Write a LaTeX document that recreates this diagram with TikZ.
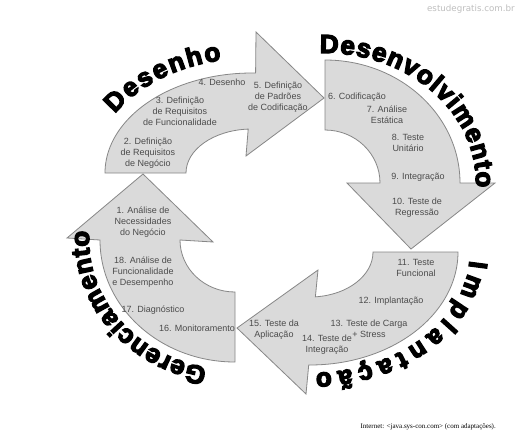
\documentclass[tikz,border=0pt]{standalone}
\usepackage{fontspec}
\usetikzlibrary{calc,decorations.text}
\newfontfamily\lblfont{Liberation Sans}
\newfontfamily\titlefont[FakeBold=5]{Liberation Sans Bold}
\newfontfamily\srcfont{Liberation Serif}
\newfontfamily\wmfont{DejaVu Sans}
\definecolor{arrowfill}{RGB}{218,218,218}
\definecolor{arrowline}{RGB}{135,135,135}
\definecolor{labeltext}{RGB}{75,75,75}
\tikzset{
  bigarrow/.style={fill=arrowfill,draw=arrowline,line width=0.8pt,line join=miter},
  lbl/.style={font=\lblfont\fontsize{9}{11}\selectfont,text=labeltext,align=center,inner sep=0pt},
  phase/.style={decorate,decoration={text along path,text align={fit to path},
    text={|\titlefont\fontsize{26}{26}\selectfont|#1}}}
}

\begin{document}
\begin{tikzpicture}[x=1pt,y=1pt]
  \fill[white] (0,0) rectangle (519,-437);
  \useasboundingbox (0,0) rectangle (519,-437);
  % centres of the four quarter-ellipse arrows, clockwise from top left
  \coordinate (c1) at (252,-173);
  \coordinate (c2) at (325,-183);
  \coordinate (c3) at (310,-252);
  \coordinate (c4) at (235,-240);

  \draw[bigarrow] ([shift={(c1)}]180:66 and 44) -- ([shift={(c1)}]180:147 and 100)
    arc[start angle=180,end angle=88.6,x radius=147,y radius=100]
    -- (256,-32) -- (324,-98) -- (246,-156) -- ([shift={(c1)}]93.3:66 and 44)
    arc[start angle=93.3,end angle=180,x radius=66,y radius=44] -- cycle;
  \draw[bigarrow] ([shift={(c2)}]90:55 and 53) -- ([shift={(c2)}]90:135 and 123)
    arc[start angle=90,end angle=0,x radius=135,y radius=123]
    -- (495,-183) -- (411,-249) -- (347,-183) -- ([shift={(c2)}]0:55 and 53)
    arc[start angle=0,end angle=90,x radius=55,y radius=53] -- cycle;
  \draw[bigarrow] ([shift={(c3)}]0:63 and 45) -- ([shift={(c3)}]0:148 and 113)
    arc[start angle=0,end angle=-90.5,x radius=148,y radius=113]
    -- (306,-394) -- (237,-328) -- (318,-270) -- ([shift={(c3)}]-85.1:63 and 45)
    arc[start angle=-85.1,end angle=0,x radius=63,y radius=45] -- cycle;
  \draw[bigarrow] ([shift={(c4)}]-90:55 and 52) -- ([shift={(c4)}]-90:135 and 122)
    arc[start angle=-90,end angle=-180,x radius=135,y radius=122]
    -- (67,-238) -- (143,-174) -- (213,-242) -- ([shift={(c4)}]180:55 and 52)
    arc[start angle=180,end angle=270,x radius=55,y radius=52] -- cycle;

  % phase names run clockwise just outside each arrow
  \path[phase=Desenho] ([shift={(c1)}]149:160 and 115)
    arc[start angle=149,end angle=101,x radius=160,y radius=115];
  \path[phase=Desenvolvimento] ([shift={(c2)}]92:151 and 130)
    arc[start angle=92,end angle=-2,x radius=151,y radius=130];
  \path[phase=Implantação] ([shift={(c3)}]-4:160 and 121)
    arc[start angle=-4,end angle=-88,x radius=160,y radius=121];
  \path[phase=Gerenciamento] ([shift={(c4)}]259:146 and 130)
    arc[start angle=259,end angle=176,x radius=146,y radius=130];

  \foreach \n/\x/\y/\t in {
    1/143/222/{1. Análise de\\Necessidades\\do Negócio},
    2/148/153/{2. Definição\\de Requisitos\\de Negócio},
    3/180/111/{3. Definição\\de Requisitos\\de Funcionalidade},
    4/222/82/{4. Desenho},
    5/278/97/{5. Definição\\de Padrões\\de Codificação},
    6/357/97/{6. Codificação},
    7/387/115/{7. Análise\\Estática},
    8/408/143/{8. Teste\\Unitário},
    9/418/177/{9. Integração},
    10/417/208/{10. Teste de\\Regressão},
    11/416/268/{11. Teste\\Funcional},
    12/391/301/{12. Implantação},
    13/369/329/{13. Teste de Carga\\+ Stress},
    14/327/345/{14. Teste de\\Integração},
    15/274/330/{15. Teste da\\Aplicação},
    16/197/328/{16. Monitoramento},
    17/153/310/{17. Diagnóstico},
    18/143/272/{18. Análise de\\Funcionalidade\\e Desempenho}}
    \node[lbl] (step\n) at (\x,-\y) {\t};

  \node[font=\srcfont\fontsize{7}{8}\selectfont,anchor=east,inner sep=0pt] (source)
    at (496,-427) {Internet: <java.sys-con.com> (com adaptações).};
  \node[font=\wmfont\fontsize{8.7}{10}\selectfont,text=black!25,anchor=east,inner sep=0pt] (mark)
    at (515,-9) {estudegratis.com.br};
\end{tikzpicture}
\end{document}
